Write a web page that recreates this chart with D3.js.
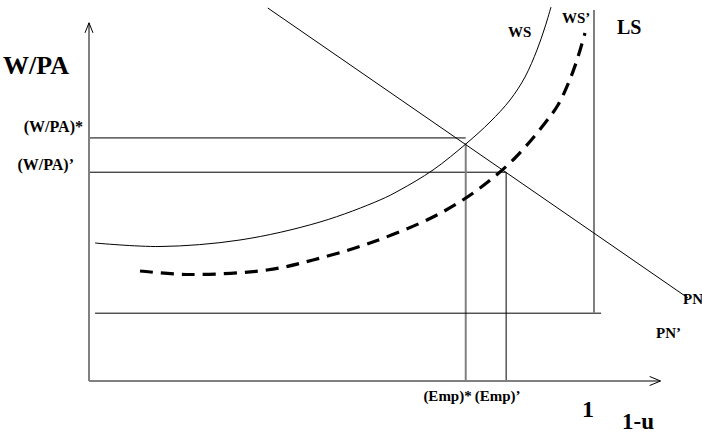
<!DOCTYPE html>
<html><head><meta charset="utf-8">
<script src="https://cdn.jsdelivr.net/npm/d3@7"></script>
<style>html,body{margin:0;padding:0;background:#fff;} svg{display:block;} text{font-family:"Liberation Serif","Times New Roman",serif;font-weight:bold;fill:#000;}</style>
</head><body>
<svg id="chart" width="702" height="435"></svg>
<script>
// ---- data (x: employment rate 1-u, y: real wage W/PA) ----
const xAxisMax = 1.13;
const yAxisMax = 0.94;
const empLevels = [0.746, 0.826];           // (Emp)*, (Emp)'
const empLabels = ["(Emp)*", "(Emp)\u2019"];
const wpaLevels = [0.638, 0.548];           // (W/PA)*, (W/PA)'
const wpaLabels = ["(W/PA)*", "(W/PA)\u2019"];
const empIntersectY = [0.624, 0.548];       // tops of the vertical drop lines
const pnPrimeLevel = 0.178;
const pnPrimeSpan = [0.012, 1.014];
const lsX = 1.0;
const lsSpan = [0.178, 0.974];
const pnLine = [[0.354, 0.979], [1.186, 0.218]];
const wsCurve = [[0.0119,0.3622],[0.1406,0.3530],[0.2990,0.3701],[0.4574,0.4173],[0.5762,0.4751],
                 [0.6158,0.5013],[0.6812,0.5538],[0.7485,0.6247],[0.7941,0.6798],[0.8337,0.7375],
                 [0.8634,0.7979],[0.8871,0.8688],[0.9030,0.9291],[0.9149,0.9816]];
const wsPrimeCurve = [[0.1010,0.2887],[0.2000,0.2795],[0.3525,0.2913],[0.4436,0.3176],[0.5564,0.3622],
                      [0.6812,0.4304],[0.7663,0.4987],[0.8416,0.5827],[0.9030,0.6772],[0.9287,0.7244],
                      [0.9485,0.7795],[0.9644,0.8346],[0.9822,0.9134]];

const svg = d3.select("#chart");
const x = d3.scaleLinear().domain([0, 1]).range([89, 594]);
const y = d3.scaleLinear().domain([0, 1]).range([381, 0]);
const line = d3.line().x(d => x(d[0])).y(d => y(d[1]));
const curve = d3.line().x(d => x(d[0])).y(d => y(d[1])).curve(d3.curveCatmullRom.alpha(0.5));

// guide lines
wpaLevels.forEach((v, i) => {
  svg.append("line").attr("x1", x(0)).attr("x2", x(empLevels[i])).attr("y1", y(v)).attr("y2", y(v))
    .attr("stroke", "#000").attr("stroke-width", 1);
});
svg.append("line").attr("x1", x(empLevels[0])).attr("x2", x(empLevels[0]))
  .attr("y1", y(empIntersectY[0])).attr("y2", y(0)).attr("stroke", "#808080").attr("stroke-width", 2);
svg.append("line").attr("x1", x(empLevels[1])).attr("x2", x(empLevels[1]))
  .attr("y1", y(empIntersectY[1])).attr("y2", y(0)).attr("stroke", "#000").attr("stroke-width", 1);
svg.append("line").attr("x1", x(pnPrimeSpan[0])).attr("x2", x(pnPrimeSpan[1]))
  .attr("y1", y(pnPrimeLevel)).attr("y2", y(pnPrimeLevel)).attr("stroke", "#000").attr("stroke-width", 1);
svg.append("line").attr("x1", x(lsX)).attr("x2", x(lsX))
  .attr("y1", y(lsSpan[0])).attr("y2", y(lsSpan[1])).attr("stroke", "#808080").attr("stroke-width", 2);

// PN line
svg.append("path").attr("d", line(pnLine)).attr("fill", "none").attr("stroke", "#000").attr("stroke-width", 1);
// WS curve
svg.append("path").attr("d", curve(wsCurve)).attr("fill", "none").attr("stroke", "#000").attr("stroke-width", 1);
// WS' dashed
svg.append("path").attr("d", curve(wsPrimeCurve)).attr("fill", "none").attr("stroke", "#000")
  .attr("stroke-width", 3.2).attr("stroke-dasharray", "13,8");

// axes
svg.append("line").attr("x1", x(0)).attr("x2", x(0)).attr("y1", y(0)).attr("y2", y(yAxisMax))
  .attr("stroke", "#808080").attr("stroke-width", 2);
svg.append("line").attr("x1", x(0)).attr("x2", x(xAxisMax)).attr("y1", y(0)).attr("y2", y(0))
  .attr("stroke", "#808080").attr("stroke-width", 2);
const tipY = [x(0), y(yAxisMax)];
svg.append("path").attr("d", `M${tipY[0]-4},${tipY[1]+10}L${tipY[0]},${tipY[1]}L${tipY[0]+4},${tipY[1]+10}`)
  .attr("fill", "none").attr("stroke", "#000").attr("stroke-width", 1);
const tipX = [x(xAxisMax) + 1, y(0)];
svg.append("path").attr("d", `M${tipX[0]-11},${tipX[1]-4.5}L${tipX[0]},${tipX[1]}L${tipX[0]-11},${tipX[1]+4.5}`)
  .attr("fill", "none").attr("stroke", "#000").attr("stroke-width", 1);

// labels
svg.append("text").attr("x", 3).attr("y", 74).attr("font-size", 26).text("W/PA");
svg.append("text").attr("x", 83).attr("y", y(wpaLevels[0]) - 6).attr("text-anchor", "end").attr("font-size", 16).text(wpaLabels[0]);
svg.append("text").attr("x", 74).attr("y", y(wpaLevels[1]) - 2).attr("text-anchor", "end").attr("font-size", 16).text(wpaLabels[1]);
svg.append("text").attr("x", x(empLevels[0]) + 6).attr("y", 401).attr("text-anchor", "end").attr("font-size", 15).text(empLabels[0]);
svg.append("text").attr("x", x(empLevels[0]) + 9).attr("y", 401).attr("text-anchor", "start").attr("font-size", 15).text(empLabels[1]);
svg.append("text").attr("x", x(1) - 6).attr("y", 417).attr("text-anchor", "middle").attr("font-size", 24).text("1");
svg.append("text").attr("x", 622).attr("y", 429).attr("font-size", 23).text("1-u");
svg.append("text").attr("x", 508).attr("y", 37).attr("font-size", 15).text("WS");
svg.append("text").attr("x", 562).attr("y", 23).attr("font-size", 15).text("WS\u2019");
svg.append("text").attr("x", 617).attr("y", 34).attr("font-size", 20).text("LS");
svg.append("text").attr("x", 683).attr("y", 304).attr("font-size", 15).text("PN");
svg.append("text").attr("x", 656).attr("y", 338).attr("font-size", 15).text("PN\u2019");
</script>
</body></html>
